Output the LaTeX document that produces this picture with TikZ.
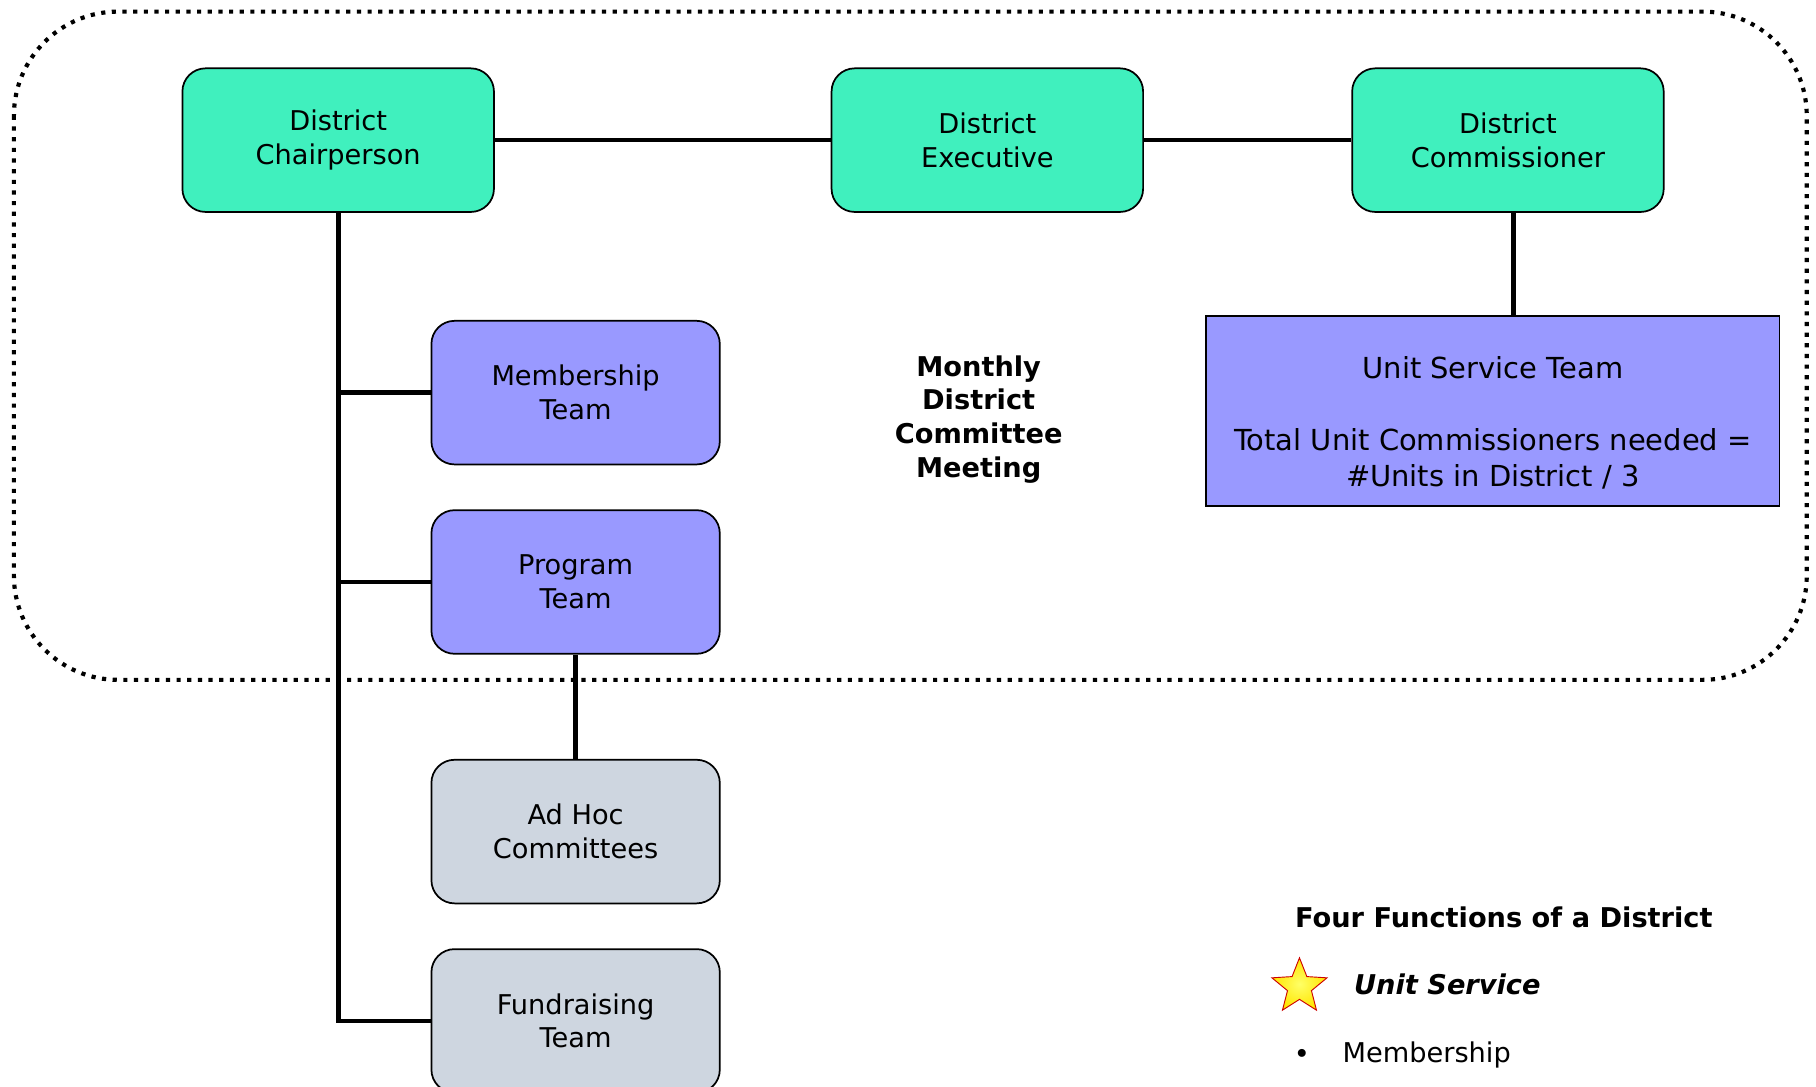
\documentclass[tikz,border=0pt]{standalone}
\usepackage{fontspec}
\setmainfont{DejaVu Sans}
\usetikzlibrary{positioning,shapes.geometric}
\definecolor{leadgreen}{RGB}{64,240,190}
\definecolor{teamblue}{RGB}{153,153,255}
\definecolor{helpgray}{RGB}{206,214,224}
\tikzset{
  lead/.style={draw, fill=leadgreen, shape=rectangle, rounded corners=20pt, line width=1.5pt, minimum width=269pt, minimum height=124pt, align=center, font=\fontsize{23.5}{29}\selectfont},
  team/.style={lead, fill=teamblue, minimum width=249pt},
  helper/.style={team, fill=helpgray},
  link/.style={line width=4pt},
  legend/.style={inner sep=0pt, anchor=west, font=\fontsize{23.5}{29}\selectfont}
}

\begin{document}
\begin{tikzpicture}[x=1pt, y=-1pt]
\useasboundingbox (0,0) rectangle (1568,938);
\draw[line width=3.6pt, dash pattern=on 3.6pt off 5.6pt, rounded corners=90pt] (12,10) rectangle (1560,587);
\node[lead] (1) at (292,121) {District\\Chairperson};
\node[lead, right=290pt of 1] (2) {District\\Executive};
\node[lead, right=179pt of 2] (3) {District\\Commissioner};
\node[team] (4) at (497,339) {Membership\\Team};
\node[team, below=38pt of 4] (5) {Program\\Team};
\node[helper, below=90pt of 5] (6) {Ad Hoc\\Committees};
\node[helper, below=38pt of 6] (7) {Fundraising\\Team};
\node[draw, fill=teamblue, line width=1.5pt, minimum width=495pt, minimum height=164pt, align=center, font=\fontsize{25}{31}\selectfont] (8) at (1289,355) {\rule{0pt}{39pt}Unit Service Team\\[31pt]Total Unit Commissioners needed =\\\#Units in District / 3};
\node[align=center, font=\bfseries\fontsize{23.5}{29}\selectfont] (9) at (845,362) {Monthly\\District\\Committee\\Meeting};
\draw[link] (1.east) -- (2.west);
\draw[link] (2.east) -- (3.west);
\draw[link] (1.south) |- (7.west);
\draw[link] (4.west) -- (4.west -| 1.south);
\draw[link] (5.west) -- (5.west -| 1.south);
\draw[link] (5.south) -- (6.north);
\draw[link] ([xshift=5pt]3.south) -- ([xshift=5pt]3.south |- 8.north);
\begin{scope}[nodes = {legend}]
\node[font=\bfseries\fontsize{23.5}{29}\selectfont] (10) at (1118,792) {Four Functions of a District};
\node[star, star points=5, star point ratio=2.3, minimum size=50pt, anchor=center, draw=red!80!black, line width=0.8pt, inner color=yellow!60, outer color=yellow!80!orange] (11) at (1122,852) {};
\node[font=\bfseries\itshape\fontsize{23.5}{29}\selectfont] (12) at (1169,850) {Unit Service};
\node[anchor=center] (13) at (1124,912) {\textbullet};
\node (14) at (1159,911) {Membership};
\end{scope}
\end{tikzpicture}
\end{document}
